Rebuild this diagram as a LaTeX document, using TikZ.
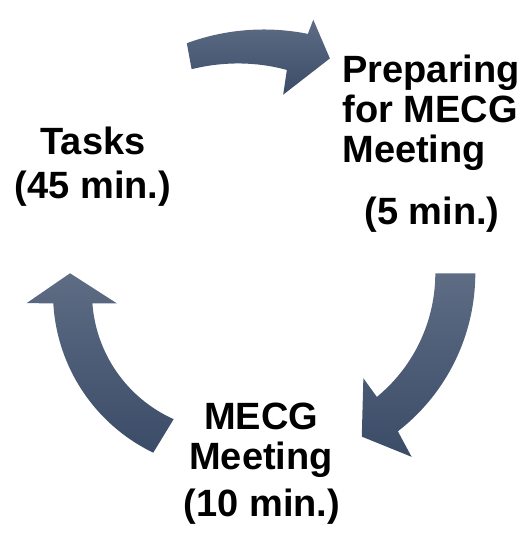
\documentclass[tikz,border=0pt]{standalone}
\usepackage{fontspec}
\setmainfont{Liberation Sans}
\definecolor{arrowlight}{RGB}{94,108,132}
\definecolor{arrowdark}{RGB}{59,76,104}
\begin{document}
\begin{tikzpicture}[x=0.5pt,y=0.5pt,
  cyclearrow/.style={top color=arrowlight, bottom color=arrowdark, draw=none},
  steplabel/.style={font=\bfseries\fontsize{19}{20}\selectfont, inner sep=0pt}]
\useasboundingbox (0,0) rectangle (528,533);

\begin{scope}[shift={(263.8,280.5)}]
\shade[cyclearrow] plot[domain=110.2:78.6, samples=40] (\x:223) -- (78:238) -- (71.2:205) -- (83:159)
  -- plot[domain=82.8:111.5, samples=40] (\x:{184+13*(\x-82.8)/28.7}) -- cycle;
\end{scope}

\begin{scope}[shift={(275.3,259.7)}]
\shade[cyclearrow] plot[domain=0:-52.2, samples=40] (\x:200) -- (-53.4:228.6) -- (-62.1:184.8) -- (-50:137)
  -- plot[domain=-50.6:0, samples=40] (\x:160) -- cycle;
\end{scope}

\begin{scope}[shift={(230,239.8)}]
\shade[cyclearrow] plot[domain=244.3:183.3, samples=40] (\x:177) -- (182.8:203.6) -- (172.9:161.2) -- (185.1:113.7)
  -- plot[domain=184.2:245.9, samples=40] (\x:138) -- cycle;
\end{scope}

\node[steplabel, align=left, anchor=base west] (prep) at (342,370) {Preparing\\for MECG\\Meeting};
\node[steplabel, anchor=base] (prepmin) at (432,308) {(5 min.)};
\node[steplabel, anchor=base] (tasks) at (93,378) {Tasks};
\node[steplabel, anchor=base] (tasksmin) at (93,334) {(45 min.)};
\node[steplabel, align=center, anchor=base] (meet) at (261,63) {MECG\\Meeting};
\node[steplabel, anchor=base] (meetmin) at (262,16) {(10 min.)};
\end{tikzpicture}
\end{document}
